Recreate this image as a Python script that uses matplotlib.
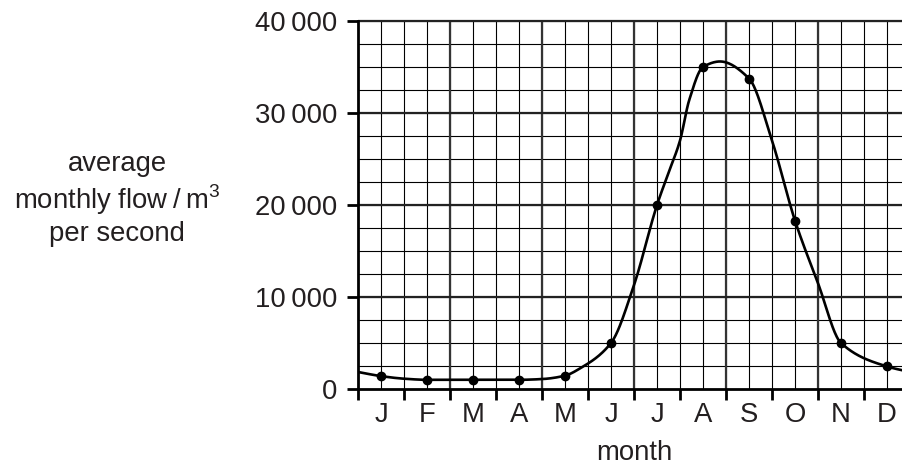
import numpy as np
import matplotlib
matplotlib.use('Agg')
import matplotlib.pyplot as plt
from matplotlib.ticker import FixedLocator, NullFormatter

plt.rcParams['font.family'] = ['Liberation Sans', 'DejaVu Sans']
plt.rcParams['mathtext.fontset'] = 'custom'
plt.rcParams['mathtext.rm'] = 'Liberation Sans'

# data
months = ['J', 'F', 'M', 'A', 'M', 'J', 'J', 'A', 'S', 'O', 'N', 'D']
flow = [1400, 1000, 1000, 1000, 1450, 5000, 20000, 35000, 33750, 18300, 5000, 2450]
month_pos = np.arange(len(months)) + 0.5

# hand-drawn smooth curve (month position, flow)
curve_pos = [0.0, 0.5, 1.0, 1.5, 2.5, 3.5, 4.0, 4.5, 4.83, 5.5, 6.0, 6.5, 6.75,
             7.0, 7.2, 7.5, 7.87, 8.5, 9.0, 9.5, 10.0, 10.5, 11.5, 12.0]
curve_flow = [1850, 1400, 1120, 1000, 1000, 1000, 1080, 1450, 2250, 5000, 11300,
              20000, 23500, 27000, 31400, 35000, 35600, 33750, 27000, 18300,
              11500, 5000, 2450, 1850]

yticks = [0, 10000, 20000, 30000, 40000]
ytick_labels = ['0', '10\u2009000', '20\u2009000', '30\u2009000', '40\u2009000']

INK = '#231f20'
FS = 19.8
W, H = 902, 471


def pchip(x, y, xs):
    # monotone cubic for drawing the smooth pen line
    x = np.asarray(x, float)
    y = np.asarray(y, float)
    h = np.diff(x)
    d = np.diff(y) / h
    m = np.zeros_like(y)
    for k in range(1, len(x) - 1):
        if d[k - 1] * d[k] > 0:
            w1 = 2 * h[k] + h[k - 1]
            w2 = h[k] + 2 * h[k - 1]
            m[k] = (w1 + w2) / (w1 / d[k - 1] + w2 / d[k])
    m[0] = d[0]
    m[-1] = d[-1]
    i = np.clip(np.searchsorted(x, xs) - 1, 0, len(h) - 1)
    t = (xs - x[i]) / h[i]
    h00 = 2 * t**3 - 3 * t**2 + 1
    h10 = t**3 - 2 * t**2 + t
    h01 = -2 * t**3 + 3 * t**2
    h11 = t**3 - t**2
    return h00 * y[i] + h10 * h[i] * m[i] + h01 * y[i + 1] + h11 * h[i] * m[i + 1]


fig = plt.figure(figsize=(W / 100, H / 100), dpi=100)
fig.patch.set_facecolor('white')

# axes run past the right edge, like the cropped original
ax = fig.add_axes([358 / W, (H - 389) / H, 552 / W, 368 / H])
ax.set_xlim(0, 12)
ax.set_ylim(0, 40000)

# graph-paper grid
minor_x = np.arange(0.5, 12.01, 0.5)
major_x = np.arange(2, 12.01, 2)
minor_y = np.arange(2500, 40001, 2500)
major_y = np.arange(10000, 40001, 10000)
ax.vlines(minor_x, 0, 40000, color='black', lw=0.8, zorder=1, clip_on=False)
ax.hlines(minor_y, 0, 12, color='black', lw=0.8, zorder=1, clip_on=False)
ax.vlines(major_x, 0, 40000, color='#333333', lw=1.6, zorder=1.5, clip_on=False)
ax.hlines(major_y, 0, 12, color='#222222', lw=1.6, zorder=1.5, clip_on=False)

xs = np.linspace(curve_pos[0], curve_pos[-1], 800)
ax.plot(xs, pchip(curve_pos, curve_flow, xs), color='black', lw=1.9, zorder=3)
ax.plot(month_pos, flow, 'o', color='black', ms=6, zorder=4)

for s in ['top', 'right']:
    ax.spines[s].set_visible(False)
for s in ['left', 'bottom']:
    ax.spines[s].set_linewidth(2.0)
    ax.spines[s].set_color('black')
    ax.spines[s].set_zorder(5)

ax.set_yticks(yticks)
ax.set_yticklabels(ytick_labels)
ax.tick_params(axis='y', direction='out', length=8, width=2.0, pad=7,
               labelsize=FS, labelcolor=INK)

ax.xaxis.set_major_locator(FixedLocator(np.arange(0, 13)))
ax.xaxis.set_major_formatter(NullFormatter())
ax.xaxis.set_minor_locator(FixedLocator(month_pos))
ax.set_xticklabels(months, minor=True)
ax.tick_params(axis='x', which='major', direction='out', length=8, width=2.0)
ax.tick_params(axis='x', which='minor', length=0, pad=9, labelsize=FS,
               labelcolor=INK)

fig.text(634 / W, 1 - 453 / H, 'month', ha='center', va='center',
         fontsize=FS, color=INK)
fig.text(117 / W, 1 - 199 / H,
         'average\nmonthly flow\u2009/\u2009m$^3$\nper second',
         ha='center', va='center', multialignment='center',
         fontsize=FS, color=INK, linespacing=1.22)

fig.savefig('out.png', dpi=100, facecolor='white')
